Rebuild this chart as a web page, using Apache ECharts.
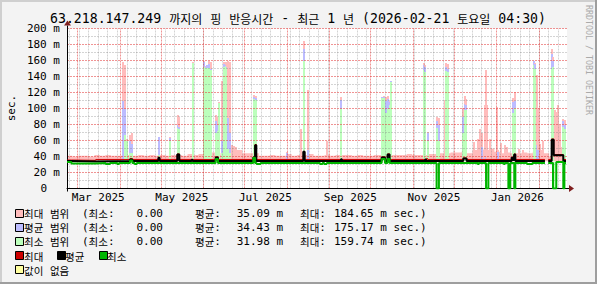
<!DOCTYPE html>
<html><head><meta charset="utf-8">
<script src="https://cdn.jsdelivr.net/npm/echarts@6/dist/echarts.min.js"></script>
<style>html,body{margin:0;padding:0;background:#f3f3f3}#c{width:597px;height:284px}</style>
</head><body><div id="c"></div>
<script>
// ---- time frame: x values are days since 2025-02-21 04:30 (one-year window) ----
const START = Date.UTC(2025, 1, 21, 4, 30);
const DAY = 86400000;
const SPAN = 365;

// ---- tick / label data ----
const yTicks = [0, 20, 40, 60, 80, 100, 120, 140, 160, 180, 200];
const monthStarts = ['2025-03-01','2025-04-01','2025-05-01','2025-06-01','2025-07-01','2025-08-01','2025-09-01','2025-10-01','2025-11-01','2025-12-01','2026-01-01','2026-02-01'];
const labelMonths = ['2025-03-01','2025-05-01','2025-07-01','2025-09-01','2025-11-01','2026-01-01'];
const labelTexts = ['Mar 2025','May 2025','Jul 2025','Sep 2025','Nov 2025','Jan 2026'];
const firstWeekStart = '2025-02-23';

// ---- series data (ms) ----
const BASE = 34;            // lower edge of the range bands
const bandStep = 4;         // days between band samples
const bandTop = [41,40,41,41,40,42,41,42,41,41,42,42,41,42,41,42,41,42,41,42,42,41,43,42,43,44,45,42,44,46,52,48,44,44,44,41,41,42,41,41,43,41,42,42,43,
                 41,41,42,41,42,42,42,41,42,41,41,42,42,42,42,42,42,43,42,42,42,43,43,44,44,45,45,46,44,48,50,48,50,46,44,45,44,44,45,44,46,48,44,40,50,52,46];
// [day, min-range top, avg-range top, max-range top]
const spikes = [
 [40.9,0,110,158],[42.6,67,100,155],[43.5,60,60,62],[46.2,44,60,67],[47.5,44,56,69],[67.4,42,65,65],[75.0,60,63,65],
 [80.8,76,79,92],[81.8,75,77,90],[92.2,157,157,158],[100.0,152,158,159],[101.2,151,152,153],[102.4,151,154,155],[103.6,151,156,159],
 [104.9,148,150,158],[108.9,70,84,92],[110.1,72,80,90],[111.2,107,107,108],[113.4,45,60,134],[114.6,152,156,158],[115.8,153,155,158],
 [117.0,151,152,156],[117.8,50,88,159],[119.0,45,70,158],[120.5,0,0,55],[122.0,0,0,53],[123.5,0,0,50],[136.8,112,114,117],[137.9,111,113,116],
 [160.8,0,45,46],[170.5,0,0,75],[172.7,160,175,185],[176.2,0,48,123],
 [189.6,0,0,60],[200.0,100,111,115],[230.0,113,115,115],[231.5,113,115,116],[233.0,95,110,115],[234.4,100,112,116],[235.6,105,108,110],
 [236.6,133,135,135],[260.6,148,154,157],[261.6,146,152,155],[263.3,60,70,71],[270.2,76,84,90],[271.2,60,80,88],[275.9,0,0,111],
 [276.9,147,152,157],[277.9,146,150,156],[289.0,70,90,101],[290.2,98,106,116],[291.2,98,104,112],[297.0,0,0,58],[300.0,0,0,62],
 [301.5,0,0,75],[303.0,0,52,70],[305.4,0,0,104],[305.9,0,40,148],[306.6,0,0,104],[309.0,0,0,62],[313.6,0,0,102],[314.8,0,46,48],
 [316.5,0,0,57],[319.5,0,0,55],[321.5,0,0,52],[325.6,95,108,113],[326.8,101,109,121],[330.0,0,0,50],[333.0,0,0,48],[340.8,154,159,160],
 [341.8,150,156,157],[342.8,0,55,142],[343.8,0,48,101],[345.5,0,0,56],[347.7,0,0,60],[354.0,150,168,174],[355.0,152,160,165],
 [356.2,0,0,98],[357.3,0,0,96],[358.6,0,0,105],[359.8,0,0,80],[362.0,77,84,87],[363.2,75,80,86]
];
// min-range area reaching down to 0 where min was 0: [day, top]
const minFloor = [[355.6,33],[356.6,33]];
// lines: [day, value] change points (value held until next point)
const maxLine = [[0,35.6],[3.2,35.2],[21,36.3],[46,37.6],[47.7,36.3],[66.7,38.8],[67.6,36.3],[80.5,43.3],[82,36.3],[108.5,39.6],[110.2,36.3],
 [136,39.6],[137.3,55],[138.2,36.3],[172.5,46.5],[173.5,36.3],[229.7,39.6],[232.1,36.3],[234,43.3],[235.5,36.3],[262.5,37.5],[263.2,36.3],
 [289.3,38.3],[291.7,36.3],[324.6,39],[326,36.3],[326.5,43.3],[327.3,36.3],[348.9,36.3],[349,null],[351.3,36.3],[353.8,62],[355.3,42.5],
 [362.3,36.3],[364.3,36.3]];
const avgLine = [[0,34.4],[3.2,33.6],[21,34.4],[46,36.2],[47.7,34.4],[66.7,38.3],[67.6,34.4],[80.5,42.5],[82,34.4],[91,36],[91.6,34.4],
 [108.5,38.8],[110.2,34.4],[136,38.8],[137.3,54],[138.2,34.4],[172.5,45.8],[173.5,34.4],[200,36.7],[200.6,34.4],[229.7,38.8],[232.1,34.4],
 [234,42.5],[235.5,34.4],[261.5,36.3],[262.1,34.4],[289.3,37.5],[291.7,34.4],[324.6,38.3],[326,34.4],[326.5,42.5],[327.3,34.4],
 [348.9,34.4],[349,null],[351.3,34.4],[353.8,61],[355.3,41.5],[362.3,34.4],[364.3,34.4]];
const minLine = [[0,33.1],[3.2,31.3],[21,31.9],[28.2,30.6],[31.4,31.9],[36.7,30.6],[38,31.9],[46,35],[47.7,31.9],[49.4,30.6],[50.9,31.9],
 [108.5,37],[110.2,31.9],[136,38.5],[137.3,31.9],[138.4,30.6],[141.3,31.9],[184.7,30.6],[186.5,31.9],[187.8,30.6],[189.6,31.9],
 [229.7,37],[232.1,31.9],[234,37],[235.5,31.9],[269.8,0],[271.5,31.9],[299.8,30.6],[300.6,31.9],[305.9,0],[307.6,31.9],[318.8,30.6],
 [319.6,31.9],[322.2,0],[323.6,31.9],[326.5,0],[327.3,31.9],[335.8,30.6],[339.7,31.9],[348.9,31.9],[349,null],[351.3,31.9],[354.8,0],
 [357.2,33],[362.3,0],[363.1,31.9],[364.3,31.9]];

// ---- text ----
const titleText = '63.218.147.249 까지의 핑 반응시간 - 최근 1 년 (2026-02-21 토요일 04:30)';
const legendRows = [
  ['최대 범위', '(최소:', '0.00', '평균:', '35.09 m', '최대:', '184.65 m sec.)'],
  ['평균 범위', '(최소:', '0.00', '평균:', '34.43 m', '최대:', '175.17 m sec.)'],
  ['최소 범위', '(최소:', '0.00', '평균:', '31.98 m', '최대:', '159.74 m sec.)']
];
const lineLegend = ['최대', '평균', '최소'];
const unknownLegend = '값이 없음';
const yAxisTitle = 'sec.';
const watermark = 'RRDTOOL / TOBI OETIKER';

// ---- style ----
const C = {
  back: '#f3f3f3', canvas: '#ffffff', shadeA: '#cfcfcf', shadeB: '#9e9e9e',
  pink: '#ffbcbc', blue: '#bcbcff', lgreen: '#bcffbc', red: '#cc0000', black: '#000000', green: '#00b400', yellow: '#ffffa0',
  grid: 'rgba(120,120,120,0.32)', mgrid: 'rgba(228,60,60,0.55)', arrow: '#7f1f1f', font: '#000'
};
const MONO = "'DejaVu Sans Mono', monospace";
const KR = "'Noto Sans CJK KR', sans-serif";
const GRID = {left: 67, top: 28.5, width: 500, height: 160};

const dayOf = s => (Date.parse(s + 'T00:00:00Z') - START) / DAY;
const monthDays = monthStarts.map(dayOf);
const weekDays = [];
for (let d = dayOf(firstWeekStart); d < SPAN; d += 7) weekDays.push(d);
const labelDays = labelMonths.map(s => dayOf(s) + 15);

function rich(str) {
  return str.replace(/([\uAC00-\uD7A3]+)|([^\uAC00-\uD7A3]+)/g, (m, k, a) => k ? '{k|' + k + '}' : '{a|' + a + '}');
}
function richStyles(aSize, kSize, color) {
  return {a: {fontFamily: MONO, fontSize: aSize, fill: color || C.font},
          k: {fontFamily: KR, fontSize: kSize, fill: color || C.font}};
}

const chart = echarts.init(document.getElementById('c'), null, {renderer: 'svg', width: 597, height: 284});

// range spikes: rectangles from BASE to each range top, drawn through the axis scales
const spikeSeries = {
  type: 'custom', data: spikes, silent: true, z: 2, clip: true,
  encode: {x: 0, y: [1, 2, 3]},
  renderItem: (params, api) => {
    const d = api.value(0);
    const b = api.coord([d, BASE]);
    const kids = [];
    [[3, C.pink], [2, C.blue], [1, C.lgreen]].forEach(([k, col]) => {
      const v = api.value(k);
      if (v <= BASE) return;
      const t = api.coord([d, v]);
      kids.push({type: 'rect', shape: {x: Math.round(b[0]) - 1, y: Math.round(t[1]), width: 2, height: Math.round(b[1]) - Math.round(t[1])}, style: {fill: col}});
    });
    return {type: 'group', children: kids};
  }
};
const floorSeries = {
  type: 'custom', data: minFloor, silent: true, z: 2, encode: {x: 0, y: 1},
  renderItem: (params, api) => {
    const d = api.value(0);
    const b = api.coord([d, 0]);
    const t = api.coord([d, api.value(1)]);
    return {type: 'rect', shape: {x: Math.round(b[0]) - 1, y: t[1], width: 2, height: b[1] - t[1]}, style: {fill: C.lgreen}};
  }
};

// grid drawn as thin lines (custom series, positions from the axis scales, snapped to pixel centres)
const vGrid = weekDays.map(d => [d, 0]).concat(monthDays.map(d => [d, 1]));
const hGrid = [];
for (let v = 10; v <= 200; v += 10) hGrid.push([v, v % 20 === 0 ? 1 : 0]);
const gridSeries = (data, vertical) => ({
  type: 'custom', data, silent: true, z: 20, clip: false,
  renderItem: (params, api) => {
    const val = api.value(0), major = api.value(1) === 1;
    let shape;
    if (vertical) {
      const p0 = api.coord([val, 0]), p1 = api.coord([val, 200]);
      const x = Math.floor(p0[0]) + 0.5;
      shape = {x1: x, y1: p0[1], x2: x, y2: p1[1]};
    } else {
      const p0 = api.coord([0, val]), p1 = api.coord([SPAN, val]);
      const y = Math.floor(p0[1]) + 0.5;
      shape = {x1: p0[0], y1: y, x2: p1[0], y2: y};
    }
    return {type: 'line', shape, z2: major ? 2 : 1, style: {stroke: major ? C.mgrid : C.grid, lineWidth: 1, lineDash: [2, 1]}};
  }
});

const lineSeries = (data, color, width, z) => ({type: 'line', data, step: 'end', symbol: 'none', showSymbol: false,
  connectNulls: false, silent: true, z, lineStyle: {color, width}});

const option = {
  animation: false,
  backgroundColor: C.back,
  grid: {left: GRID.left, top: GRID.top, width: GRID.width, height: GRID.height, show: true, backgroundColor: C.canvas, borderWidth: 0},
  xAxis: {type: 'value', min: 0, max: SPAN, z: 21,
    axisLine: {show: true, lineStyle: {color: '#000', width: 1}},
    axisTick: {show: false}, splitLine: {show: false},
    axisLabel: {customValues: labelDays, margin: 3, fontFamily: MONO, fontSize: 11, color: C.font,
      formatter: v => { let best = 0; labelDays.forEach((d, i) => { if (Math.abs(d - v) < Math.abs(labelDays[best] - v)) best = i; }); return labelTexts[best]; }}
  },
  yAxis: {type: 'value', min: 0, max: 200, interval: 20, z: 21,
    axisLine: {show: true, lineStyle: {color: '#000', width: 1}},
    axisTick: {show: false}, splitLine: {show: false},
    axisLabel: {margin: 7, fontFamily: MONO, fontSize: 11, color: C.font,
      formatter: v => v === 0 ? '{z|0}' : v + ' m',
      rich: {z: {fontFamily: MONO, fontSize: 11, color: C.font, padding: [0, 13, 0, 0]}}}
  },
  series: [
    {type: 'line', data: bandTop.map((v, i) => [i * bandStep, v]), step: 'end', symbol: 'none', silent: true,
     lineStyle: {width: 0, opacity: 0}, areaStyle: {color: C.pink, opacity: 1, origin: BASE}, z: 1},
    spikeSeries,
    floorSeries,
    gridSeries(hGrid, false),
    gridSeries(vGrid, true),
    lineSeries(maxLine, C.red, 1, 27),
    lineSeries(avgLine, C.black, 2, 28),
    lineSeries(minLine, C.green, 2, 29)
  ]
};
chart.setOption(option);

// ---- decorations & legend (graphic) ----
const g = [];
const W = 597, H = 284;
g.push({type: 'rect', shape: {x: 0, y: 0, width: W, height: 2}, style: {fill: C.shadeA}, silent: true});
g.push({type: 'rect', shape: {x: 0, y: 0, width: 2, height: H}, style: {fill: C.shadeA}, silent: true});
g.push({type: 'rect', shape: {x: 0, y: H - 2, width: W, height: 2}, style: {fill: C.shadeB}, silent: true});
g.push({type: 'rect', shape: {x: W - 2, y: 0, width: 2, height: H}, style: {fill: C.shadeB}, silent: true});
const o = chart.convertToPixel({gridIndex: 0}, [0, 0]);
const xe = chart.convertToPixel({gridIndex: 0}, [SPAN, 0]);
const yt = chart.convertToPixel({gridIndex: 0}, [0, 200]);
const ox = Math.floor(o[0]) + 0.5, oy = Math.floor(o[1]) + 0.5;
g.push({type: 'line', shape: {x1: xe[0], y1: oy, x2: xe[0] + 3, y2: oy}, style: {stroke: '#000', lineWidth: 1}, z: 30});
g.push({type: 'line', shape: {x1: ox, y1: yt[1], x2: ox, y2: yt[1] - 3}, style: {stroke: '#000', lineWidth: 1}, z: 30});
g.push({type: 'line', shape: {x1: ox, y1: oy, x2: ox, y2: oy + 3}, style: {stroke: '#000', lineWidth: 1}, z: 30});
g.push({type: 'polygon', shape: {points: [[xe[0] + 2, oy - 3.5], [xe[0] + 7, oy], [xe[0] + 2, oy + 3.5]]}, style: {fill: C.arrow}, z: 30});
g.push({type: 'polygon', shape: {points: [[ox - 3.5, yt[1] - 3], [ox, yt[1] - 8], [ox + 3.5, yt[1] - 3]]}, style: {fill: C.arrow}, z: 30});
g.push({type: 'text', x: 298, y: 18.5, z: 30, style: {text: rich(titleText), rich: richStyles(13.2, 12), align: 'center', verticalAlign: 'middle'}});
g.push({type: 'text', x: 11, y: 108, rotation: Math.PI / 2, z: 30, style: {text: yAxisTitle, fontFamily: MONO, fontSize: 11, fill: C.font, align: 'center', verticalAlign: 'middle'}});
g.push({type: 'text', x: 589, y: 60, rotation: -Math.PI / 2, z: 30, style: {text: watermark, fontFamily: MONO, fontSize: 8.3, fill: '#aaaaaa', align: 'center', verticalAlign: 'middle'}});
const rowY = [213.5, 227.7, 241.8, 256, 270.2];
const box = (x, y, color) => g.push({type: 'rect', shape: {x: x + 0.5, y: Math.round(y) - 4.5, width: 8, height: 8}, style: {fill: color, stroke: '#000', lineWidth: 1}, z: 30});
const txt = (x, y, s, align) => g.push({type: 'text', x, y, z: 30, style: {text: rich(s), rich: richStyles(11, 10.5), align: align || 'left', verticalAlign: 'middle'}});
const rangeColors = [C.pink, C.blue, C.lgreen];
legendRows.forEach((r, i) => {
  const y = rowY[i];
  box(15, y, rangeColors[i]);
  txt(24, y, r[0]);
  txt(82, y, r[1]);
  txt(163, y, r[2], 'right');
  txt(195, y, r[3]);
  txt(283, y, r[4], 'right');
  txt(300, y, r[5]);
  txt(334, y, r[6]);
});
const lineCols = [[15, 24, C.red], [57, 65, C.black], [99, 107, C.green]];
lineLegend.forEach((s, i) => { box(lineCols[i][0], rowY[3], lineCols[i][2]); txt(lineCols[i][1], rowY[3], s); });
box(15, rowY[4], C.yellow); txt(24, rowY[4], unknownLegend);

chart.setOption({graphic: g});
</script></body></html>
